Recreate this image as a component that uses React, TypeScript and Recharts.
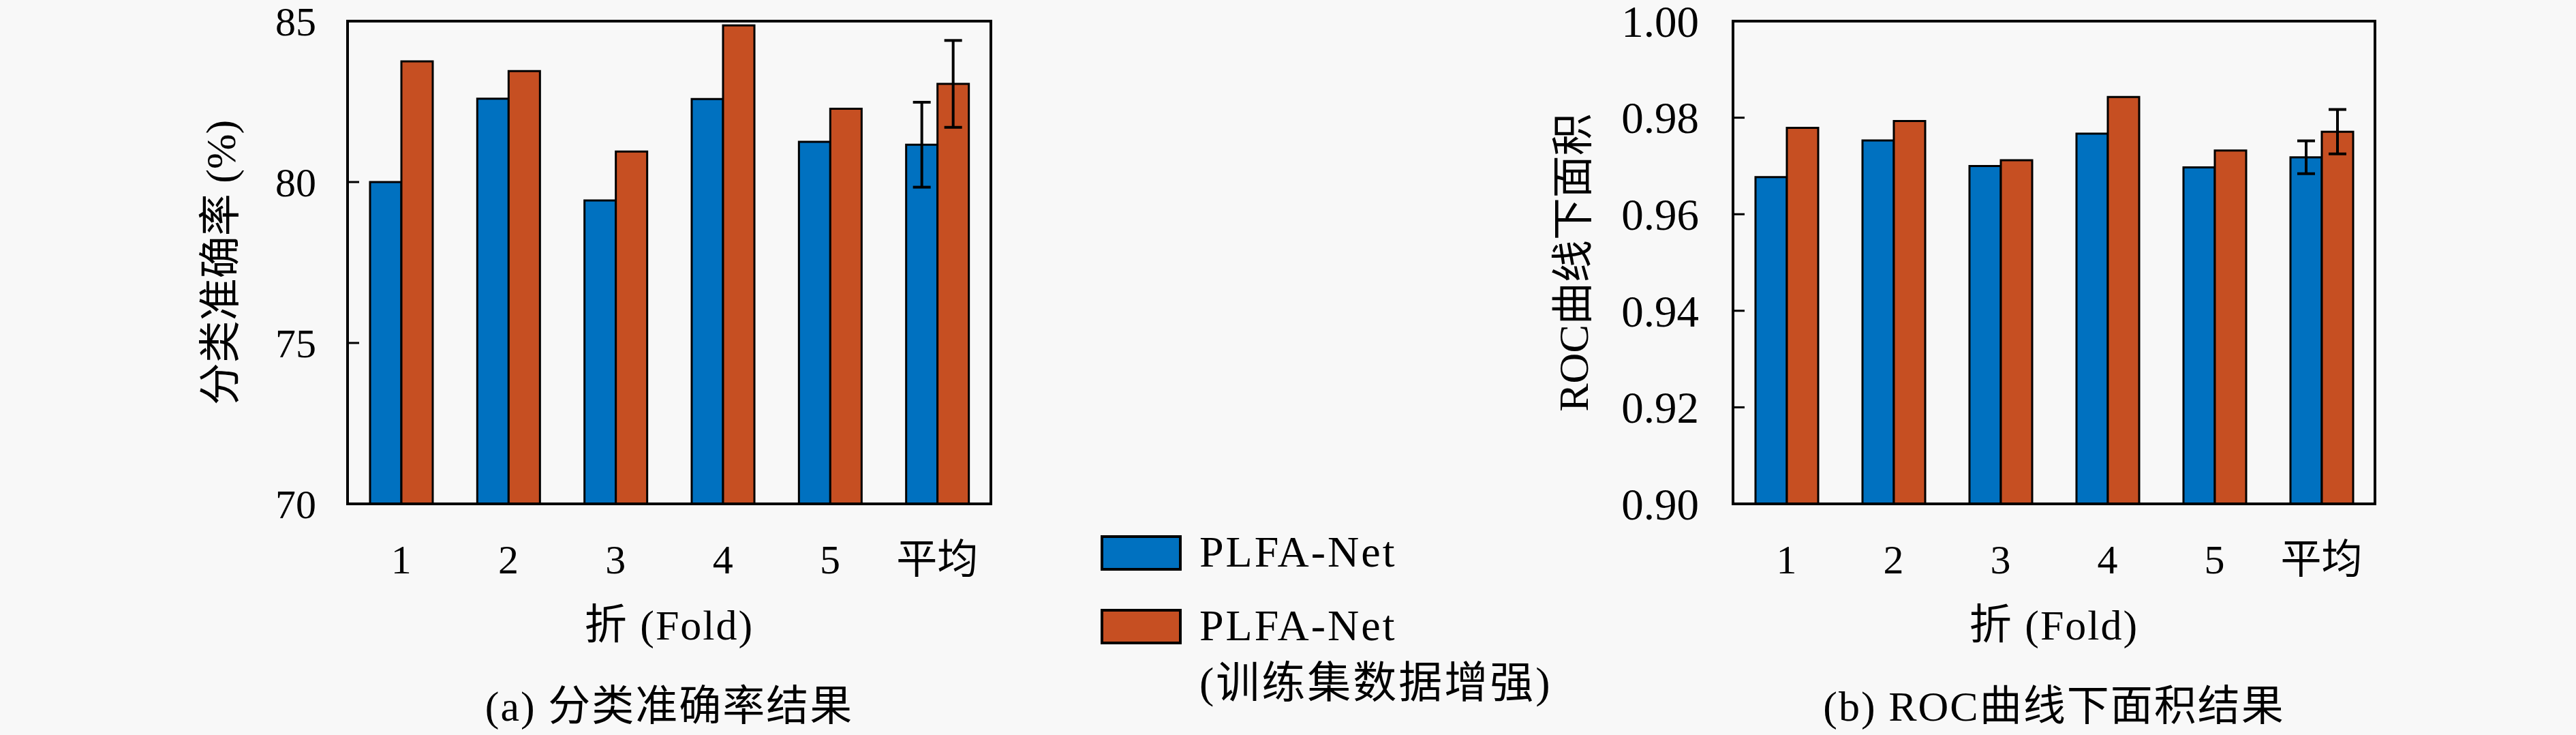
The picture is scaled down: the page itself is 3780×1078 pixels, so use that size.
import React from 'react';
import { BarChart, Bar, XAxis, YAxis, ErrorBar, ReferenceArea, Legend, Label } from 'recharts';

// ---- data ----
const categories = ['1', '2', '3', '4', '5', '平均'];
const accBase = [80.0, 82.59, 79.43, 82.58, 81.25, 81.16];
const accAug = [83.75, 83.45, 80.95, 84.87, 82.28, 83.05];
const accBaseErr = [null, null, null, null, null, 1.32];
const accAugErr = [null, null, null, null, null, 1.35];
const aucBase = [0.9677, 0.9753, 0.97, 0.9767, 0.9697, 0.9718];
const aucAug = [0.9779, 0.9793, 0.9712, 0.9843, 0.9732, 0.9771];
const aucBaseErr = [null, null, null, null, null, 0.0034];
const aucAugErr = [null, null, null, null, null, 0.0046];
const accTicks = [70, 75, 80, 85];
const aucTicks = [0.9, 0.92, 0.94, 0.96, 0.98, 1.0];
const seriesNames = ['PLFA-Net', 'PLFA-Net (训练集数据增强)'];
const xTitle = '折 (Fold)';
const accYTitle = '分类准确率 (%)';
const aucYTitle = 'ROC曲线下面积';
const accCaption = '(a) 分类准确率结果';
const aucCaption = '(b) ROC曲线下面积结果';

const accData = categories.map((c, i) => ({
  name: c, base: accBase[i], aug: accAug[i], baseErr: accBaseErr[i], augErr: accAugErr[i],
}));
const aucData = categories.map((c, i) => ({
  name: c, base: aucBase[i], aug: aucAug[i], baseErr: aucBaseErr[i], augErr: aucAugErr[i],
}));

// ---- style ----
const W = 3780;
const H = 1078;
const BG = '#f8f8f8';
const BLUE = '#0071C0';
const ORANGE = '#C64F22';
const SERIF = "'Liberation Serif', 'Noto Sans CJK SC', serif";
const TXT = { fontFamily: SERIF };

const makeYTick = (fontSize: number, margin: number, tickLen: number, fmt: (v: number) => string) =>
  (props: any) => {
    const { x, y, payload } = props;
    const axisX = x + margin;
    return (
      <g>
        <line x1={axisX} x2={axisX + tickLen} y1={y} y2={y} stroke="#000" strokeWidth={3} />
        <text x={x} y={y} dy="0.35em" textAnchor="end" fontSize={fontSize} fontFamily={SERIF} style={TXT} fill="#000">
          {fmt(payload.value)}
        </text>
      </g>
    );
  };

const renderLegend = (props: any) => {
  const payload = props.payload || [];
  return (
    <svg width={720} height={290} style={{ overflow: 'visible', display: 'block' }}>
      {payload.map((entry: any, i: number) => {
        const top = i === 0 ? 17 : 125;
        const lines = String(entry.value).split(/ (?=\()/);
        return (
          <g key={i}>
            <rect x={17} y={top} width={115} height={48} fill={entry.color} stroke="#000" strokeWidth={4} />
            {lines.map((ln, j) => (
              <text key={j} x={160} y={top + 44 + j * 84} fontSize={64} fontFamily={SERIF} style={TXT} fill="#000" letterSpacing={3}>
                {ln}
              </text>
            ))}
          </g>
        );
      })}
    </svg>
  );
};

type PanelProps = {
  data: any[];
  ticks: number[];
  domain: [number, number];
  fmt: (v: number) => string;
  yTitle: string;
  caption: string;
  left: number;
  width: number;
  marginLeft: number;
  marginRight: number;
  yTickFont: number;
  yTickMargin: number;
  yTitleOffset: number;
  showLegend?: boolean;
};

function Panel(p: PanelProps) {
  return (
    <div style={{ position: 'absolute', left: p.left, top: 0 }}>
      <BarChart
        width={p.width}
        height={H}
        data={p.data}
        margin={{ top: 31, left: p.marginLeft, right: p.marginRight, bottom: 279 }}
        barGap={0}
        barSize={46}
        style={TXT}
      >
        <Bar dataKey="base" name={seriesNames[0]} fill={BLUE} stroke="#000" strokeWidth={3} isAnimationActive={false}>
          <ErrorBar dataKey="baseErr" width={13} strokeWidth={4} stroke="#000" direction="y" isAnimationActive={false} />
        </Bar>
        <Bar dataKey="aug" name={seriesNames[1]} fill={ORANGE} stroke="#000" strokeWidth={3} isAnimationActive={false}>
          <ErrorBar dataKey="augErr" width={13} strokeWidth={4} stroke="#000" direction="y" isAnimationActive={false} />
        </Bar>
        <XAxis
          dataKey="name"
          height={60}
          interval={0}
          tickLine={false}
          tickSize={0}
          tickMargin={59}
          axisLine={{ stroke: '#000', strokeWidth: 4 }}
          tick={{ fontSize: 60, fill: '#000', fontFamily: SERIF }}
          label={
            <Label
              content={(lp: any) => {
                const vb = lp.viewBox || {};
                const cx = vb.x + vb.width / 2;
                return (
                  <g>
                    <text x={cx} y={vb.y + 199} textAnchor="middle" fontSize={62} fontFamily={SERIF} style={TXT} fill="#000" letterSpacing={2}>
                      {xTitle}
                    </text>
                    <text x={cx} y={vb.y + 318} textAnchor="middle" fontSize={62} fontFamily={SERIF} style={TXT} fill="#000" letterSpacing={2}>
                      {p.caption}
                    </text>
                  </g>
                );
              }}
            />
          }
        />
        <YAxis
          type="number"
          domain={p.domain}
          ticks={p.ticks}
          interval={0}
          allowDataOverflow
          width={80}
          tickLine={false}
          tickSize={0}
          tickMargin={p.yTickMargin}
          axisLine={{ stroke: '#000', strokeWidth: 4 }}
          tick={makeYTick(p.yTickFont, p.yTickMargin, 17, p.fmt)}
          label={
            <Label
              content={(lp: any) => {
                const vb = lp.viewBox || {};
                const cx = vb.x + vb.width - p.yTitleOffset;
                const cy = vb.y + vb.height / 2;
                return (
                  <text
                    x={cx}
                    y={cy}
                    dy="0.35em"
                    transform={`rotate(-90 ${cx} ${cy})`}
                    textAnchor="middle"
                    fontSize={62}
                    fontFamily={SERIF}
                    style={TXT}
                    fill="#000"
                  >
                    {p.yTitle}
                  </text>
                );
              }}
            />
          }
        />
        <ReferenceArea y1={p.domain[0]} y2={p.domain[1]} fill="none" stroke="#000" strokeWidth={4} ifOverflow="visible" />
        {p.showLegend && (
          <Legend
            layout="vertical"
            align="center"
            verticalAlign="middle"
            content={renderLegend}
            wrapperStyle={{ position: 'absolute', left: 1600, top: 770, width: 720, height: 290 }}
          />
        )}
      </BarChart>
    </div>
  );
}

export default function App() {
  return (
    <div style={{ position: 'relative', width: W, height: H, background: BG, overflow: 'hidden', fontFamily: SERIF }}>
      <style>{'body{margin:0;background:' + BG + ';}'}</style>
      <Panel
        data={accData}
        ticks={accTicks}
        domain={[70, 85]}
        fmt={(v) => String(v)}
        yTitle={accYTitle}
        caption={accCaption}
        left={0}
        width={2200}
        marginLeft={430}
        marginRight={746}
        yTickFont={60}
        yTickMargin={46}
        yTitleOffset={187}
        showLegend
      />
      <Panel
        data={aucData}
        ticks={aucTicks}
        domain={[0.9, 1.0]}
        fmt={(v) => v.toFixed(2)}
        yTitle={aucYTitle}
        caption={aucCaption}
        left={2200}
        width={1580}
        marginLeft={263}
        marginRight={295}
        yTickFont={65}
        yTickMargin={50}
        yTitleOffset={235}
      />
    </div>
  );
}
